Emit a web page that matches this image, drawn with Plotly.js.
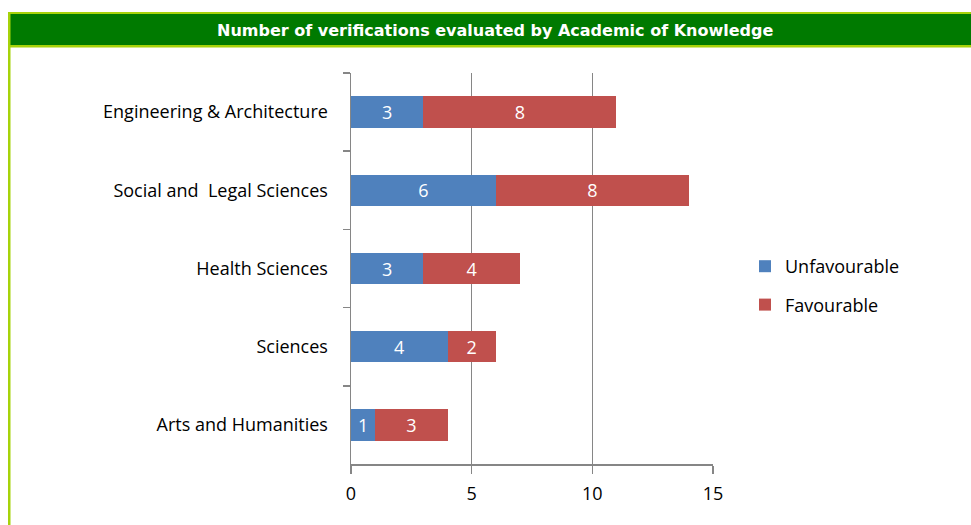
<!DOCTYPE html>
<html>
<head>
<meta charset="utf-8">
<script src="https://cdn.plot.ly/plotly-3.0.1.min.js"></script>
<style>
html,body{margin:0;padding:0;background:#fff;}
#chart{width:971px;height:525px;}
</style>
</head>
<body>
<div id="chart"></div>
<script>
const categories = ["Engineering & Architecture", "Social and  Legal Sciences", "Health Sciences", "Sciences", "Arts and Humanities"];
const unfavourable = [3, 6, 3, 4, 1];
const favourable = [8, 8, 4, 2, 3];
const seriesNames = ["Unfavourable", "Favourable"];
const xTicks = [0, 5, 10, 15];
const titleText = "Number of verifications evaluated by Academic of Knowledge";

// pixel helpers for decorations (plot area 351..713 x, 73..464 y)
const L = 351, R = 713, T = 73, B = 464;
const px = v => (v - L) / (R - L);
const py = v => (B - v) / (B - T);
const FONT = 'Open Sans, sans-serif';

const common = {
  type: 'bar', orientation: 'h', y: categories,
  textposition: 'inside', insidetextanchor: 'middle',
  textfont: {color: '#ffffff', size: 18, family: FONT},
  hoverinfo: 'x+y+name', cliponaxis: false
};
const data = [
  Object.assign({}, common, {x: unfavourable, name: seriesNames[0], text: unfavourable.map(String), marker: {color: '#4F81BD'}, legendgroup: 'a'}),
  Object.assign({}, common, {x: favourable, name: seriesNames[1], text: favourable.map(String), marker: {color: '#C0504D'}, legendgroup: 'b'})
];

const layout = {
  width: 971, height: 525,
  margin: {l: L, r: 971 - R, t: T, b: 525 - B, pad: 0},
  paper_bgcolor: '#ffffff', plot_bgcolor: '#ffffff',
  barmode: 'stack', bargap: 0.6,
  font: {family: FONT, size: 18, color: '#000000'},
  title: {
    text: titleText,
    font: {family: 'DejaVu Sans, sans-serif', size: 16, color: '#ffffff', weight: 'bold'},
    xref: 'container', x: 0.51, xanchor: 'center',
    yref: 'container', y: 1 - 30 / 525, yanchor: 'middle'
  },
  xaxis: {
    range: [0, 15], tickvals: xTicks, ticktext: xTicks.map(String),
    showgrid: true, gridcolor: '#868686', gridwidth: 1.3,
    showline: true, linecolor: '#868686', linewidth: 1.5,
    ticks: 'outside', ticklen: 8, tickcolor: '#868686', tickwidth: 1.5,
    zeroline: false, tickfont: {size: 18}, ticklabelstandoff: 5, fixedrange: true
  },
  yaxis: {
    autorange: 'reversed', type: 'category',
    showline: true, linecolor: '#868686', linewidth: 1.5,
    ticks: 'outside', tickson: 'boundaries', ticklen: 7, tickcolor: '#868686', tickwidth: 1.5,
    showgrid: false, zeroline: false, ticklabelstandoff: 18, fixedrange: true
  },
  showlegend: true,
  legend: {
    x: px(745), xanchor: 'left', y: py(248), yanchor: 'top',
    traceorder: 'grouped', tracegroupgap: 12,
    font: {size: 18}, itemwidth: 30, bgcolor: 'rgba(0,0,0,0)'
  },
  shapes: [
    {type: 'rect', xref: 'paper', yref: 'paper', x0: px(8), x1: px(980), y0: py(12), y1: py(47.5), fillcolor: '#A6D30A', line: {width: 0}, layer: 'above'},
    {type: 'rect', xref: 'paper', yref: 'paper', x0: px(10), x1: px(980), y0: py(14), y1: py(45), fillcolor: '#007A00', line: {width: 0}, layer: 'above'},
    {type: 'rect', xref: 'paper', yref: 'paper', x0: px(8), x1: px(10.5), y0: py(12), y1: py(530), fillcolor: '#A6D30A', line: {width: 0}, layer: 'above'}
  ]
};

Plotly.newPlot('chart', data, layout, {displayModeBar: false, staticPlot: true});
</script>
</body>
</html>
